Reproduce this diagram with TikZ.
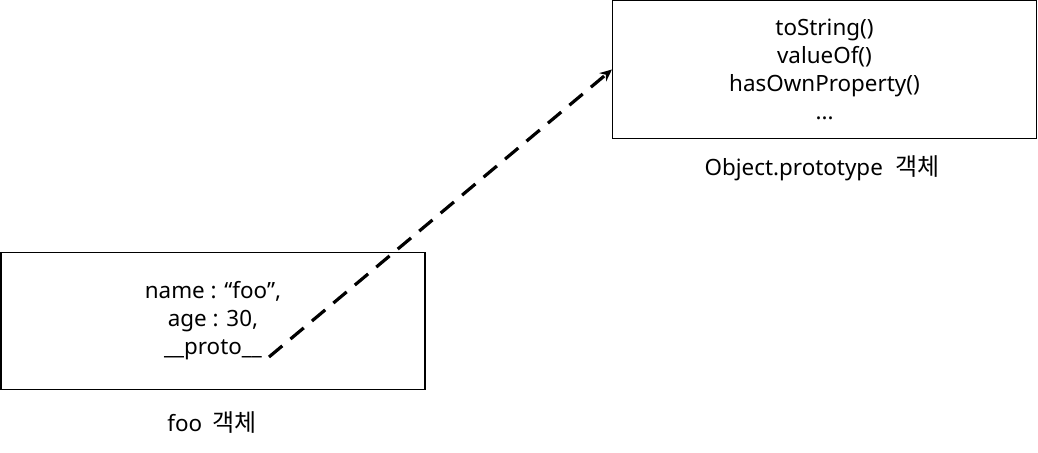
\documentclass[tikz,border=0pt]{standalone}
\usepackage{fontspec}
\setmainfont{Noto Sans}
\newfontfamily\kr{Noto Sans CJK KR}
\usepackage{tikz}
\usetikzlibrary{arrows.meta,positioning}
\tikzset{
  objeto/.style={rectangle, draw=black, line width=0.8pt, fill=white,
                 minimum width=318pt, minimum height=103pt,
                 align=center, inner sep=0pt},
  nombre/.style={align=center, inner sep=0pt},
  enlace/.style={-{Stealth[length=9pt,width=8pt]}, line width=2.4pt,
                 dash pattern=on 13pt off 8pt}
}

\begin{document}
\begin{tikzpicture}[x=0.75pt, y=-0.75pt, font=\fontsize{16.8}{21}\selectfont]
  \useasboundingbox (0,0) rectangle (1038,453);
  % --- Objetos ---
  \node[objeto] (foo) at (213,321) {name : “foo”,\\age : 30,\\\_\_proto\_\_};
  \node[objeto] (proto) at (824.5,69.5) {toString()\\valueOf()\\hasOwnProperty()\\...};
  % --- Nombres ---
  \node[nombre] (foolbl) at (212,423) {foo\hspace{0.45em}{\kr\fontsize{18}{21}\selectfont 객체}};
  \node[nombre] (protolbl) at (822,168) {Object.prototype\hspace{0.55em}{\kr\fontsize{18}{21}\selectfont 객체}};
  % --- Enlace __proto__ ---
  \coordinate (protoend) at (269,357);
  \draw[enlace] (protoend) -- (proto.west);
\end{tikzpicture}
\end{document}
